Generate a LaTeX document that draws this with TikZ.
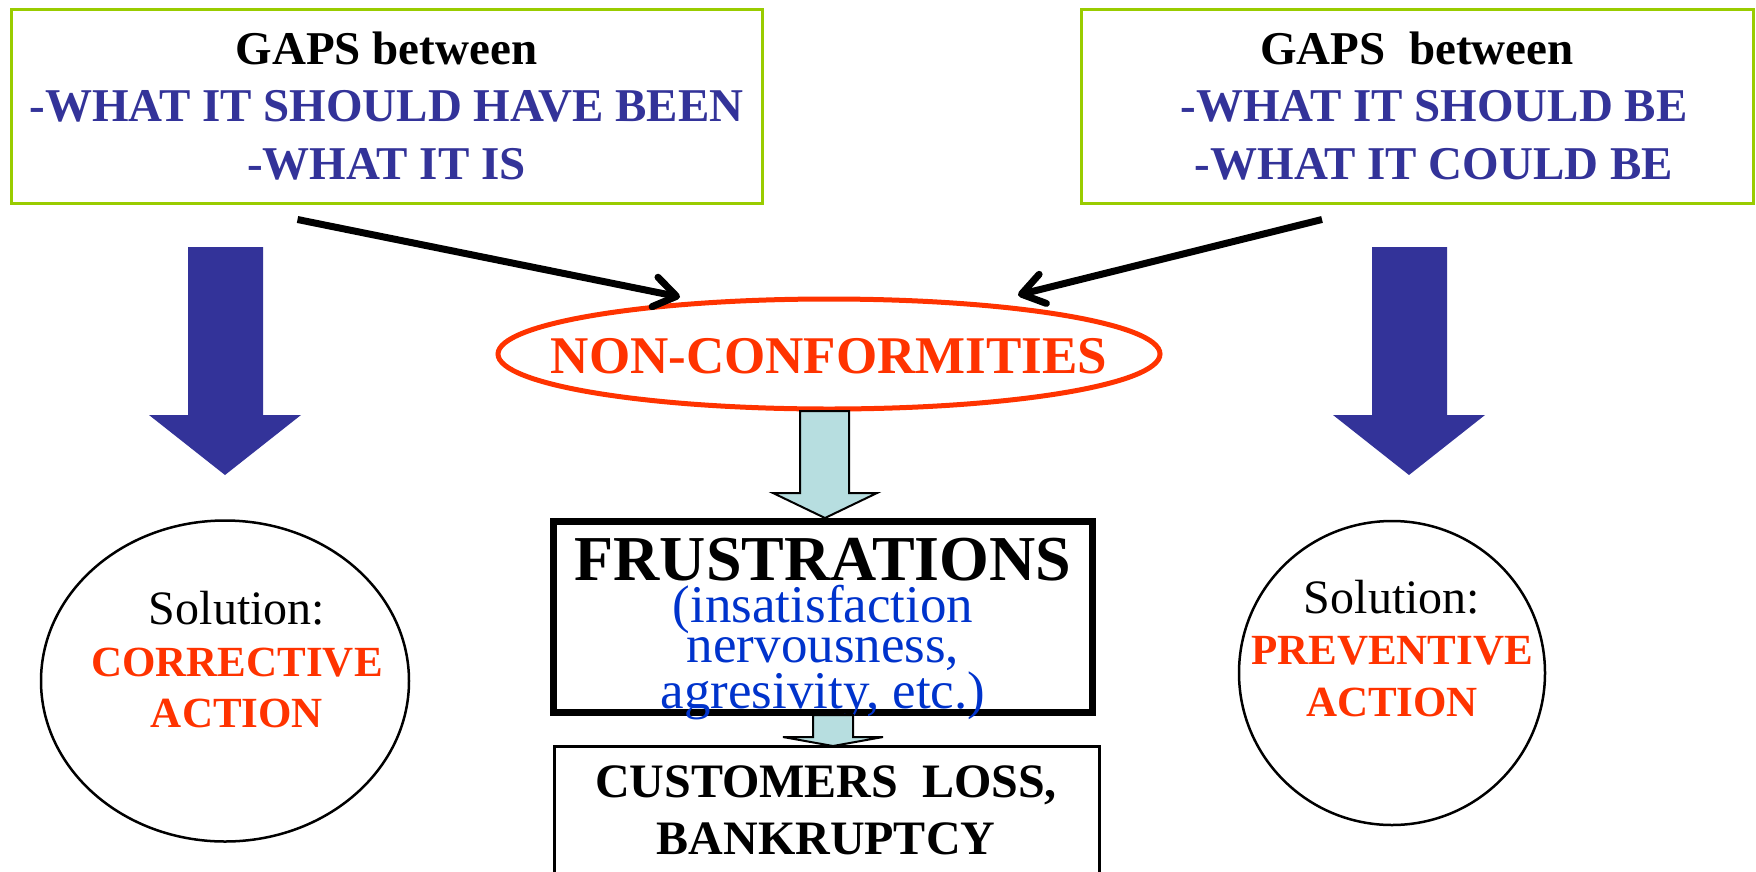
\documentclass[tikz,border=0pt]{standalone}
\usepackage{fontspec}
\setmainfont{Liberation Serif}
\usetikzlibrary{shapes.geometric,arrows.meta,positioning}
\definecolor{gapblue}{HTML}{333399}
\definecolor{ncred}{HTML}{FF3300}
\definecolor{boxgreen}{HTML}{99CC00}
\definecolor{paleblue}{HTML}{B7DEE0}
\definecolor{frblue}{HTML}{0033CC}
\newcommand{\fsz}[2]{\fontsize{#1}{#2}\selectfont}

\begin{document}
\begin{tikzpicture}[x=1pt,y=-1pt,
    gapbox/.style={draw=boxgreen,line width=3pt,inner sep=0pt,align=center,font=\fsz{47}{57.5}\bfseries},
    gaparrow/.style={line width=7pt,-{Straight Barb[length=22pt,width=30pt,round]}},
    solution/.style={draw,line width=2.5pt,ellipse,inner sep=0pt}]
  \useasboundingbox (0,0) rectangle (1756,871);
  % gaps
  \node[gapbox,minimum width=751pt,minimum height=194pt] (gapL) at (386.5,106)
    {GAPS between\\{\color{gapblue}-WHAT IT SHOULD HAVE BEEN}\\{\color{gapblue}-WHAT IT IS}};
  \node[gapbox,minimum width=672pt,minimum height=194pt] (gapR) at (1417,106)
    {GAPS\ \ between\\\hspace*{34pt}{\color{gapblue}-WHAT IT SHOULD BE}\\\hspace*{34pt}{\color{gapblue}-WHAT IT COULD BE}};
  \node[draw=ncred,line width=5pt,ellipse,minimum width=662pt,minimum height=110pt,inner sep=0pt] (nc) at (829,354) {};
  \node[text=ncred,font=\fsz{53}{60}\bfseries] (nctxt) at (829,356) {NON-CONFORMITIES};
  \coordinate (tipL) at (680,297); \coordinate (tipR) at (1018,295);
  \draw[gaparrow] ([shift={(-89,15)}]gapL.south) -- (tipL);
  \draw[gaparrow] ([shift={(-95,15)}]gapR.south) -- (tipR);
  % fat arrows down to the solutions
  \fill[gapblue] (188,247) -- (263,247) -- (263,415) -- (301,415) -- (225,475) -- (149,415) -- (188,415) -- cycle;
  \fill[gapblue] (1372,247) -- (1447,247) -- (1447,415) -- (1485,415) -- (1409,475) -- (1333,415) -- (1372,415) -- cycle;
  \node[solution,minimum width=368pt,minimum height=321pt] (corr) at (225,681) {};
  \node[align=center,font=\fsz{43}{51.5}\bfseries] (corrtxt) at (237,660)
    {{\fsz{48}{52}\mdseries Solution:}\\{\color{ncred}CORRECTIVE}\\{\color{ncred}ACTION}};
  \node[solution,minimum width=306pt,minimum height=304pt] (prev) at (1392,673) {};
  \node[align=center,font=\fsz{43}{51.5}\bfseries] (prevtxt) at (1392,648.5)
    {{\fsz{48}{52}\mdseries Solution:}\\{\color{ncred}PREVENTIVE}\\{\color{ncred}ACTION}};
  % middle column
  \draw[fill=paleblue,line width=2pt] (800,411) -- (849,411) -- (849,493) -- (877,493) -- (825,518) -- (773,493) -- (800,493) -- cycle;
  \node[draw,line width=7pt,minimum width=539pt,minimum height=191pt] (frus) at (822.5,616.5) {};
  \node[align=center,font=\fsz{53}{40.5}] (frustxt) at (823,629)
    {{\fsz{64}{64}\bfseries FRUSTRATIONS}\\[1.5pt]{\color{frblue}(insatisfaction}\\{\color{frblue}nervousness,}\\{\color{frblue}agresivity, etc.)}};
  \draw[fill=paleblue,line width=2pt] (813,715) -- (853,715) -- (853,737) -- (883,737) -- (833,746) -- (783,737) -- (813,737) -- cycle;
  \node[draw,line width=2.5pt,minimum width=545pt,minimum height=200pt,anchor=north west] (cust) at (553,745) {};
  \node[align=center,font=\fsz{48}{57}\bfseries] (custtxt) at (826,810.5) {CUSTOMERS\ \ LOSS,\\BANKRUPTCY};
\end{tikzpicture}
\end{document}
